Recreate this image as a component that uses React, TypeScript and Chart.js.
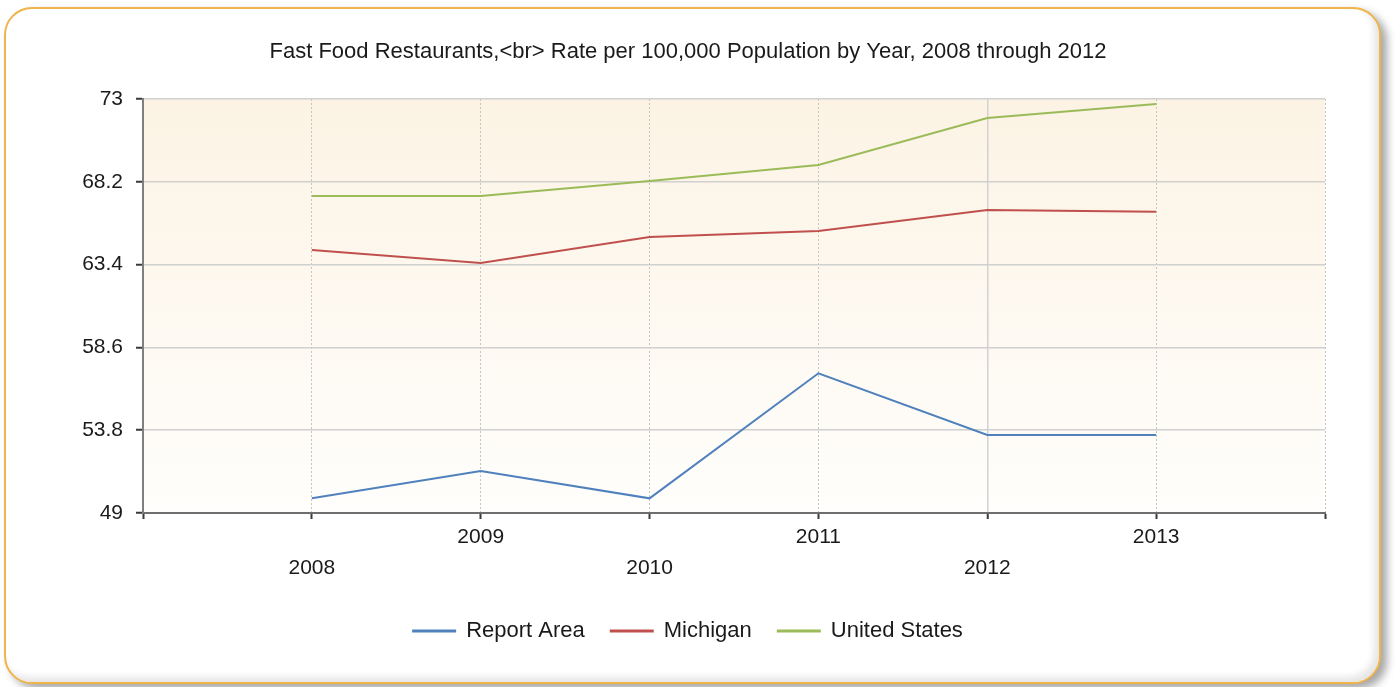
import { useEffect, useRef } from 'react';
import { Chart, registerables } from 'chart.js';

Chart.register(...registerables);

const years = [2008, 2009, 2010, 2011, 2012, 2013];
const yearLabels = ['2008', '2009', '2010', '2011', '2012', '2013'];
const reportArea = [49.85, 51.43, 49.85, 57.1, 53.52, 53.52];
const michigan = [64.25, 63.5, 65.0, 65.35, 66.57, 66.47];
const unitedStates = [67.38, 67.38, 68.25, 69.17, 71.9, 72.71];
const yTicks = [49, 53.8, 58.6, 63.4, 68.2, 73];
const yTickLabels = ['49', '53.8', '58.6', '63.4', '68.2', '73'];
const seriesNames = ['Report Area', 'Michigan', 'United States'];
const seriesColors = ['#4F81BD', '#C0504D', '#9BBB59'];
const titleText = 'Fast Food Restaurants,<br> Rate per 100,000 Population by Year, 2008 through 2012';

const FONT = "'Liberation Sans', Arial, sans-serif";
const TEXT = '#1A1A1A';

const plotBackground = {
  id: 'plotBackground',
  beforeDraw(chart: any) {
    const { ctx, chartArea } = chart;
    const { left, top, right, bottom } = chartArea;
    const g = ctx.createLinearGradient(0, top, 0, bottom);
    g.addColorStop(0, '#FCF3E4');
    g.addColorStop(1, '#FFFEFC');
    ctx.save();
    ctx.fillStyle = g;
    ctx.fillRect(left, top, right - left, bottom - top);
    ctx.restore();
  },
};

export default function App() {
  const ref = useRef<HTMLCanvasElement | null>(null);

  useEffect(() => {
    if (!ref.current) return;
    const xMin = years[0] - 1;
    const xMax = years[years.length - 1] + 1;
    const seriesValues = [reportArea, michigan, unitedStates];
    const chart = new Chart(ref.current, {
      type: 'line',
      data: {
        datasets: seriesNames.map((name, s) => ({
          label: name,
          data: years.map((y, i) => ({ x: y, y: seriesValues[s][i] })),
          borderColor: seriesColors[s],
          backgroundColor: seriesColors[s],
          borderWidth: 2,
          pointRadius: 0,
          tension: 0,
          fill: false,
        })),
      },
      options: {
        animation: false,
        responsive: false,
        events: [],
        layout: { padding: { left: 51, right: 71, top: 39, bottom: 35 } },
        plugins: {
          title: {
            display: true,
            text: titleText,
            color: TEXT,
            font: { family: FONT, size: 22, weight: 'normal', lineHeight: 1.2 },
            padding: { top: 0, bottom: 33.6 },
          },
          legend: {
            display: true,
            position: 'bottom',
            labels: {
              boxWidth: 42,
              boxHeight: 1,
              padding: 26,
              color: TEXT,
              font: { family: FONT, size: 22 },
            },
          },
          tooltip: { enabled: false },
        },
        scales: {
          x: {
            type: 'linear',
            min: xMin,
            max: xMax,
            afterBuildTicks: (scale: any) => {
              scale.ticks = [xMin, ...years, xMax].map((v) => ({ value: v }));
            },
            afterFit: (scale: any) => {
              scale.height = 81;
            },
            ticks: {
              autoSkip: false,
              maxRotation: 0,
              minRotation: 0,
              padding: 3,
              color: TEXT,
              font: { family: FONT, size: 21, lineHeight: 31 / 21 },
              callback: (v: any) => {
                const i = years.indexOf(Number(v));
                if (i < 0) return '';
                return i % 2 === 1 ? yearLabels[i] : ['', yearLabels[i]];
              },
            },
            grid: {
              color: (c: any) => (c.tick && c.tick.value === 2012 ? '#D2D2D2' : '#C4C4C4'),
              lineWidth: (c: any) => (c.tick && c.tick.value === 2012 ? 1.5 : 1),
              tickLength: 6,
              tickColor: '#3A3A3A',
              tickWidth: 2,
            },
            border: {
              color: '#6E6E6E',
              width: 2,
              dash: (c: any) => (c.tick && c.tick.value === 2012 ? [] : [2, 2]),
            },
          },
          y: {
            type: 'linear',
            min: yTicks[0],
            max: yTicks[yTicks.length - 1],
            afterBuildTicks: (scale: any) => {
              scale.ticks = yTicks.map((v) => ({ value: v }));
            },
            afterFit: (scale: any) => {
              scale.width = 92;
            },
            ticks: {
              padding: 13,
              color: TEXT,
              font: { family: FONT, size: 21 },
              callback: (v: any) => {
                const i = yTicks.indexOf(Number(v));
                return i < 0 ? '' : yTickLabels[i];
              },
            },
            grid: {
              color: '#D0D0D0',
              lineWidth: 1.5,
              tickLength: 7,
              tickColor: '#3A3A3A',
              tickWidth: 2,
            },
            border: { color: '#7F7F7F', width: 2 },
          },
        },
      },
      plugins: [plotBackground],
    } as any);
    return () => chart.destroy();
  }, []);

  return (
    <div style={{ position: 'fixed', left: 0, top: 0, width: 1396, height: 687, background: '#FFFFFF', overflow: 'hidden' }}>
      <div
        style={{
          position: 'absolute',
          left: 4,
          top: 7,
          width: 1373,
          height: 673,
          border: '2.5px solid #EFB54B',
          borderRadius: 28,
          background: '#FFFFFF',
          boxShadow: '6px 5px 8px rgba(0,0,0,0.35), inset -5px -5px 7px rgba(0,0,0,0.10)',
        }}
      />
      <canvas ref={ref} width={1396} height={687} style={{ position: 'absolute', left: 0, top: 0, width: 1396, height: 687 }} />
    </div>
  );
}
